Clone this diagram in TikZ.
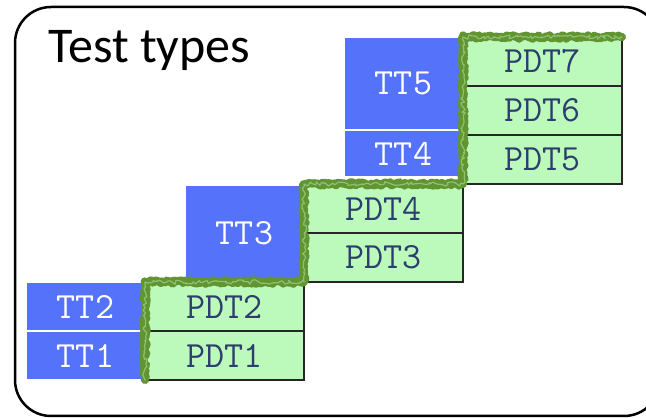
\documentclass[tikz,border=0pt]{standalone}
\usepackage{fontspec}
\newfontfamily\titlefont{Carlito}
\definecolor{ttblue}{RGB}{84,114,250}
\definecolor{pdtgreen}{RGB}{188,250,188}
\definecolor{pdtink}{RGB}{44,62,108}
\definecolor{chalk}{RGB}{98,148,50}
\usetikzlibrary{positioning}
\usetikzlibrary{decorations.pathmorphing}
\tikzset{
  pdt/.style={
    draw=black!85, line width=1.5pt, fill=pdtgreen, text=pdtink,
    minimum width=159pt, minimum height=49pt, inner sep=0, outer sep=0,
    font=\fontsize{37}{40}\selectfont\ttfamily\addfontfeatures{FakeBold=0.8}
  },
  tt/.style={
    draw=white, line width=1.5pt, fill=ttblue, text=white,
    minimum width=119pt, minimum height=49pt, inner sep=0, outer sep=0,
    font=\fontsize{37}{40}\selectfont\ttfamily\addfontfeatures{FakeBold=0.8}
  },
  chalk line/.style={
    draw=chalk, line width=8pt, line join=round, line cap=round, decorate,
    decoration={random steps, segment length=1.4pt, amplitude=1.8pt}
  },
  frame/.style={draw=black, line width=2.5pt, rounded corners=36pt}
}

\begin{document}
\begin{tikzpicture}[x=1pt, y=1pt]
\useasboundingbox (0,0) rectangle (646,418);
\pgfmathsetseed{7}

\node[pdt] (pdt1) at (224.5,62.5) {PDT1};
\node[pdt, above=0pt of pdt1] (pdt2) {PDT2};
\node[pdt, above right=0pt of pdt2] (pdt3) {PDT3};
\node[pdt, above=0pt of pdt3] (pdt4) {PDT4};
\node[pdt, above right=0pt of pdt4] (pdt5) {PDT5};
\node[pdt, above=0pt of pdt5] (pdt6) {PDT6};
\node[pdt, above=0pt of pdt6] (pdt7) {PDT7};

\node[tt, left=0pt of pdt1] (tt1) {TT1};
\node[tt, left=0pt of pdt2] (tt2) {TT2};
\node[tt, left=0pt of pdt3.north west, minimum height=95pt] (tt3) {TT3};
\node[tt, left=0pt of pdt5, yshift=6pt, minimum height=47pt] (tt4) {TT4};
\node[tt, above=0pt of tt4, minimum height=93pt] (tt5) {TT5};

\draw[chalk line] (pdt1.south west) -- (pdt2.north west) -- (pdt3.south west)
  -- (pdt4.north west) -- (pdt5.south west) -- (pdt7.north west) -- (pdt7.north east);
\draw[chalk line, draw=chalk!55!pdtgreen, line width=1.2pt,
  decoration={random steps, segment length=2.5pt, amplitude=2.2pt}]
  (pdt1.south west) -- (pdt2.north west) -- (pdt3.south west)
  -- (pdt4.north west) -- (pdt5.south west) -- (pdt7.north west) -- (pdt7.north east);

\draw[frame] (15,2) rectangle (660,411);
\node[font=\titlefont\fontsize{50}{52}\selectfont, anchor=base west, inner sep=0]
  (title) at (48,355) {Test types};
\end{tikzpicture}
\end{document}
